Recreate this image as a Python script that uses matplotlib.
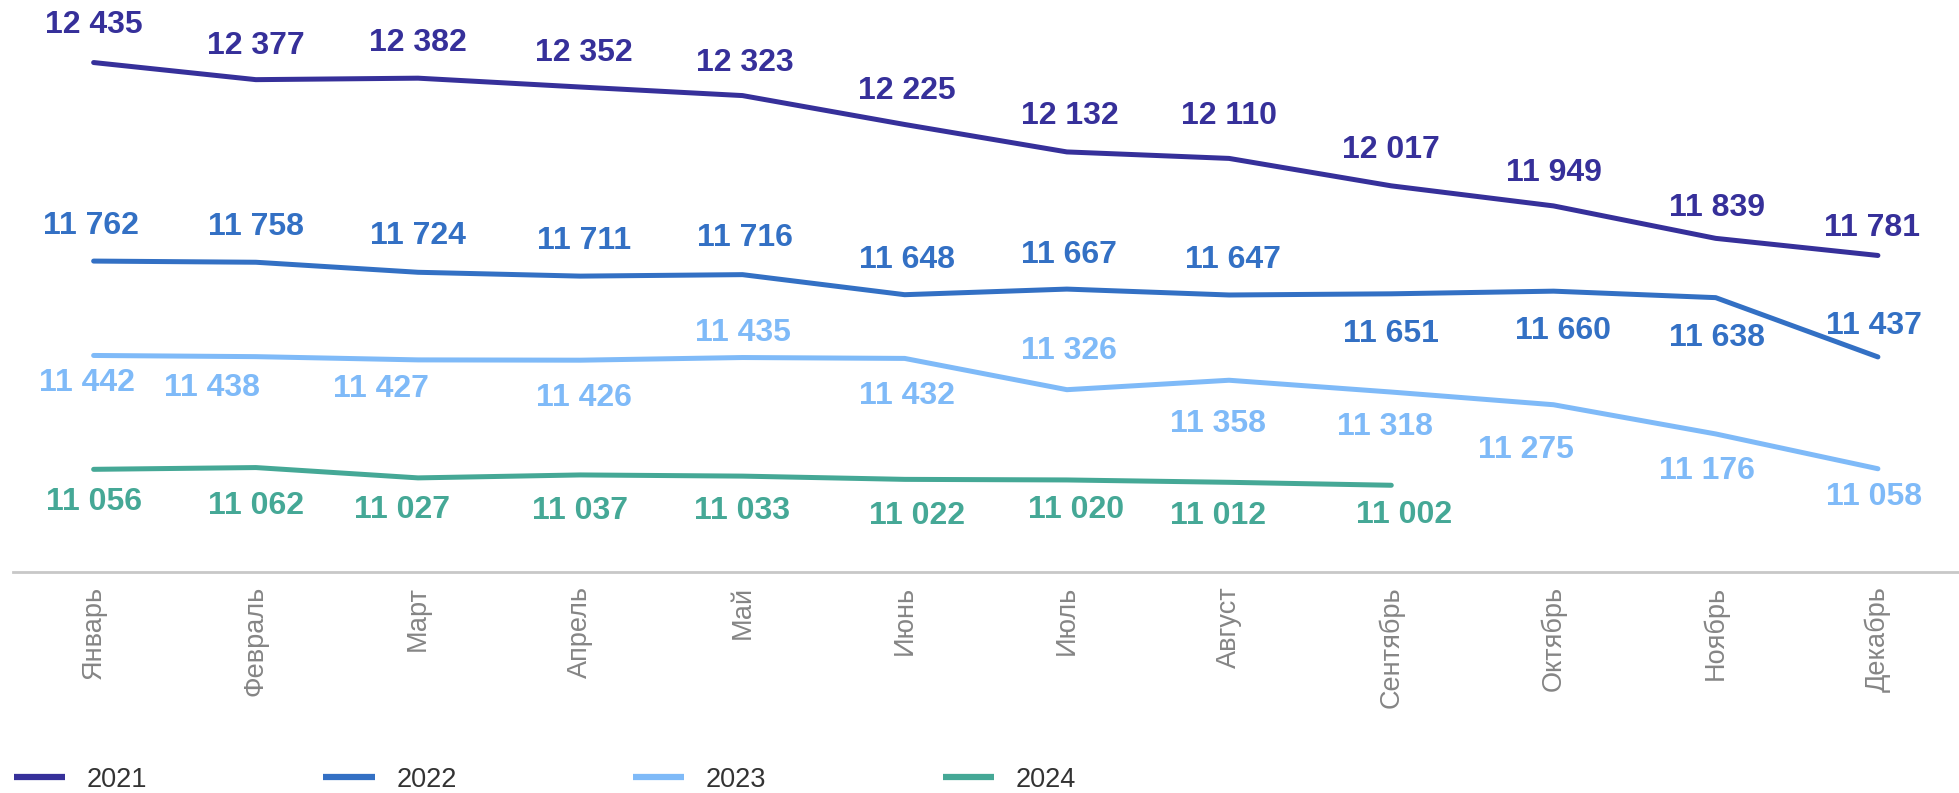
import numpy as np
import matplotlib
matplotlib.use('Agg')
import matplotlib.pyplot as plt
from matplotlib.lines import Line2D

plt.rcParams['font.family'] = ['Liberation Sans', 'DejaVu Sans']

months = ['Январь', 'Февраль', 'Март', 'Апрель', 'Май', 'Июнь', 'Июль',
          'Август', 'Сентябрь', 'Октябрь', 'Ноябрь', 'Декабрь']
years = ['2021', '2022', '2023', '2024']
v2021 = [12435, 12377, 12382, 12352, 12323, 12225, 12132, 12110, 12017, 11949, 11839, 11781]
v2022 = [11762, 11758, 11724, 11711, 11716, 11648, 11667, 11647, 11651, 11660, 11638, 11437]
v2023 = [11442, 11438, 11427, 11426, 11435, 11432, 11326, 11358, 11318, 11275, 11176, 11058]
v2024 = [11056, 11062, 11027, 11037, 11033, 11022, 11020, 11012, 11002]
series = [v2021, v2022, v2023, v2024]
colors = ['#36309a', '#3370c4', '#7fbaf8', '#45a896']

# label offsets (screen px in the shrunk reference, +down / +right)
off_x = [
    [0, 0, 0, 3, 2, 2, 2, 0, 0, 0, 1, -5],
    [-2, 0, 0, 3, 2, 2, 2, 3, 0, 8, 1, -3],
    [-5, -35, -30, 3, 0, 2, 2, -9, -5, -22, -7, -3],
    [0, 0, -13, 0, 0, 10, 7, -9, 10],
]
off_y = [
    [-30, -27, -28, -27, -26, -27, -29, -34, -29, -26, -24, -22],
    [-28, -28, -29, -28, -29, -28, -27, -28, 32, 32, 32, -25],
    [22, 25, 23, 30, -20, 30, -31, 35, 28, 36, 30, 23],
    [26, 31, 26, 29, 28, 29, 24, 27, 24],
]

fig = plt.figure(figsize=(19.59, 7.93), dpi=100)
ax = fig.add_axes([0.0064, 0.2787, 0.9936, 0.7213])
k = 1.249
for vals, c, ox, oy in zip(series, colors, off_x, off_y):
    x = np.arange(len(vals))
    ax.plot(x, vals, color=c, lw=3.6, solid_capstyle='round', solid_joinstyle='round')
    for xi, v, dx, dy in zip(x, vals, ox, oy):
        ax.annotate(f'{v:,}'.replace(',', ' '), (xi, v), xytext=(dx * k, -dy * k),
                    textcoords='offset pixels', ha='center', va='center',
                    fontsize=23, fontweight='bold', color=c)

ax.set_xlim(-0.5, 11.5)
ax.set_ylim(10708, 12647)
ax.set_yticks([])
ax.set_xticks(np.arange(len(months)))
ax.set_xticklabels(months, rotation=90, fontsize=19.5, color='#858585')
ax.tick_params(axis='x', length=0, pad=10)
for s in ['top', 'right', 'left']:
    ax.spines[s].set_visible(False)
ax.spines['bottom'].set_color('#c8c8c8')
ax.spines['bottom'].set_linewidth(2)

handles = [Line2D([], [], color=c, lw=4.5, solid_capstyle='butt') for c in colors]
fig.legend(handles, years, loc='center left', bbox_to_anchor=(0.007, 0.017), ncol=4,
           frameon=False, fontsize=19.5, handlelength=1.9, handletextpad=0.8,
           columnspacing=6.5, labelcolor='#333333', borderpad=0, borderaxespad=0)

fig.savefig('out.png', dpi=100)
